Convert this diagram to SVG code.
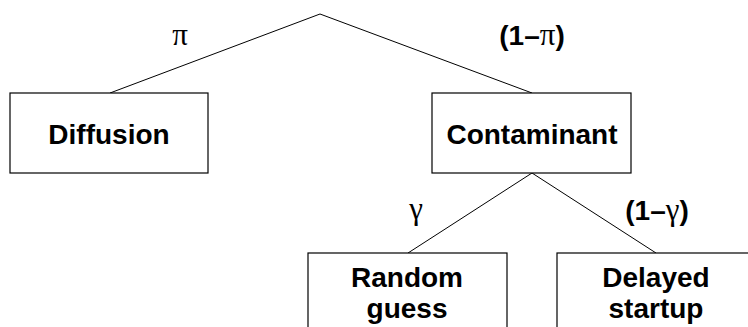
<svg xmlns="http://www.w3.org/2000/svg" width="748" height="327" viewBox="0 0 748 327">
<style>
.box{fill:#fff;stroke:#000;stroke-width:1.2}
.lbl{font-family:"Liberation Sans",Arial,sans-serif;font-weight:bold;font-size:28px;fill:#000;text-anchor:middle}
.gr{font-family:"Liberation Serif","Times New Roman",serif;font-weight:normal;font-size:31px}
.edge{stroke:#000;stroke-width:1;fill:none}
</style>
<rect width="748" height="327" fill="#fff"/>
<g id="connectors">
<line class="edge" x1="320" y1="14" x2="110" y2="93"/>
<line class="edge" x1="320" y1="14" x2="532" y2="93"/>
<line class="edge" x1="532" y1="173" x2="408" y2="253"/>
<line class="edge" x1="532" y1="173" x2="656" y2="253"/>
<text class="lbl" x="180" y="45"><tspan class="gr">π</tspan></text>
<text class="lbl" x="532" y="45">(1–<tspan class="gr">π</tspan>)</text>
<text class="lbl" x="416" y="219"><tspan class="gr">γ</tspan></text>
<text class="lbl" x="657" y="220">(1–<tspan class="gr">γ</tspan>)</text>
</g>
<g id="diffusion">
<rect class="box" x="10" y="93" width="198" height="80"/>
<text class="lbl" x="109" y="144">Diffusion</text>
</g>
<g id="contaminant">
<rect class="box" x="432" y="93" width="199" height="80"/>
<text class="lbl" x="532" y="144">Contaminant</text>
</g>
<g id="random-guess">
<rect class="box" x="308" y="253" width="199" height="90"/>
<text class="lbl" x="407" y="287">Random</text>
<text class="lbl" x="407" y="318">guess</text>
</g>
<g id="delayed-startup">
<rect class="box" x="557" y="253" width="199" height="90"/>
<text class="lbl" x="656" y="287">Delayed</text>
<text class="lbl" x="656" y="318">startup</text>
</g>
</svg>
